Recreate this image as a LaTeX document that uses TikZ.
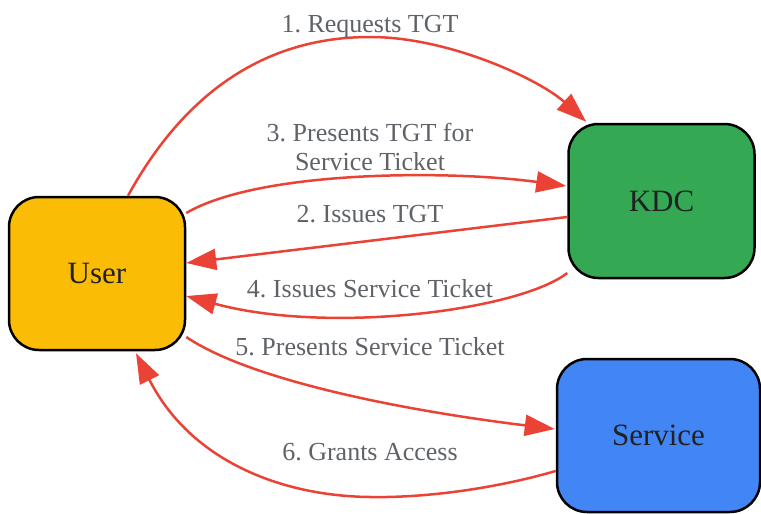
\documentclass[tikz,border=0pt]{standalone}
\usepackage{fontspec}
\setmainfont{Liberation Serif}
\usetikzlibrary{arrows.meta,calc}
\definecolor{edgered}{HTML}{EA4335}
\definecolor{labelgray}{HTML}{5F6368}
\definecolor{nodetext}{HTML}{202124}
\definecolor{usery}{HTML}{FBBC05}
\definecolor{kdcg}{HTML}{34A853}
\definecolor{servb}{HTML}{4285F4}
\frenchspacing
\tikzset{
  box/.style={draw=black, line width=2.5pt, rounded corners=30pt, inner sep=0pt,
    text=nodetext, font=\fontsize{31}{35}\selectfont},
  edge/.style={draw=edgered, line width=2.5pt, -{Triangle[length=30pt,width=21pt]}},
  elabel/.style={text=labelgray, font=\fontsize{26}{29}\selectfont, anchor=base, inner sep=0pt, align=center}
}
\begin{document}
\begin{tikzpicture}[x=1pt,y=-1pt]
\useasboundingbox (0,0) rectangle (761,514);
\node[box, fill=usery, minimum width=176pt, minimum height=153pt] (user) at (97,273.5) {User};
\node[box, fill=kdcg, minimum width=186pt, minimum height=154pt] (kdc) at (661.5,201) {KDC};
\node[box, fill=servb, minimum width=203pt, minimum height=153pt] (service) at (658.5,435.5) {Service};

% 1. Requests TGT
\draw[edge] ($(user.north)+(31,0)$) .. controls (175,110) and (250,37) .. (370,37)
  .. controls (450,37) and (540,80) .. ($(kdc.north west)+(19,-1)$);
\node[elabel] (l1) at (370,32) {1. Requests TGT};

% 3. Presents TGT for Service Ticket
\draw[edge] ($(user.east)+(0,-60.5)$) .. controls (260,170) and (450,170) .. ($(kdc.west)+(-1,-15)$);
\node[elabel] (l3a) at (370,141) {3. Presents TGT for};
\node[elabel] (l3b) at (370,170) {Service Ticket};

% 2. Issues TGT
\draw[edge] ($(kdc.west)+(0,16)$) -- ($(user.east)+(0,-10.5)$);
\node[elabel] (l2) at (370,222) {2. Issues TGT};

% 4. Issues Service Ticket
\draw[edge] ($(kdc.west)+(0,72)$) .. controls (520,310) and (330,335) .. ($(user.east)+(0,22.5)$);
\node[elabel] (l4) at (370,297) {4. Issues Service Ticket};

% 5. Presents Service Ticket
\draw[edge] ($(user.east)+(0,63.5)$) .. controls (250,380) and (400,410) .. ($(service.west)+(-1,-6.5)$);
\node[elabel] (l5) at (370,355) {5. Presents Service Ticket};

% 6. Grants Access
\draw[edge] ($(service.west)+(0,35.5)$) .. controls (490,490) and (420,498) .. (370,497)
  .. controls (280,496) and (190,460) .. ($(user.south)+(39,2)$);
\node[elabel] (l6) at (370,460) {6. Grants Access};
\end{tikzpicture}
\end{document}
